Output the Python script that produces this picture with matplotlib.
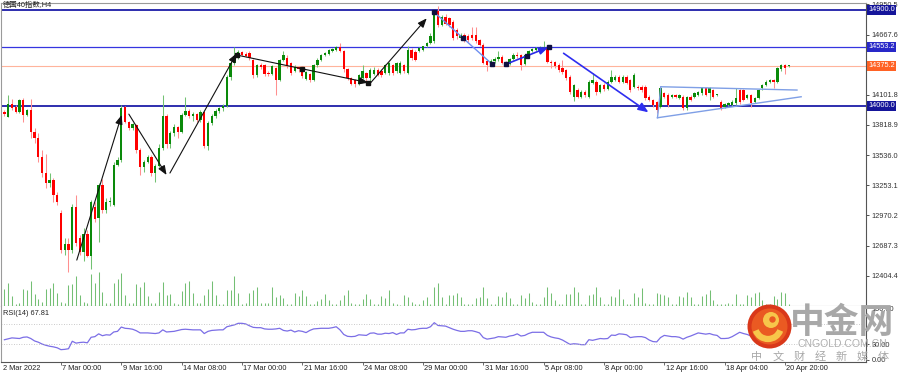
import matplotlib
matplotlib.use("Agg")
import matplotlib.pyplot as plt
from matplotlib.patches import Circle, Arc
from matplotlib.transforms import offset_copy
import numpy as np

plt.rcParams["font.family"] = ["Liberation Sans", "Noto Sans CJK SC", "DejaVu Sans"]

# DAX 40 H4 candles, 2 Mar 12:00 -> 21 Apr 2022
opens = [
    13940, 13897, 14020, 13990, 13945, 14053, 13912, 13960, 13756, 13700,
    13521, 13365, 13270, 13300, 13160, 12990, 12650, 12700, 12645, 13050,
    12760, 12630, 12800, 12585, 13050, 12945, 13255, 13020, 13095, 13070,
    13443, 13490, 13990, 13850, 13790, 13818, 13584, 13427, 13475, 13520,
    13365, 13430, 13600, 13900, 13640, 13740, 13800, 13750, 13912, 13950,
    13900, 13920, 13870, 13940, 13620, 13840, 13900, 13950, 13975, 14000,
    14270, 14400, 14470, 14500, 14485, 14490, 14430, 14290, 14380, 14380,
    14310, 14300, 14350, 14240, 14430, 14445, 14400, 14330, 14365, 14365,
    14255, 14300, 14240, 14380, 14430, 14475, 14490, 14510, 14525, 14550,
    14510, 14340, 14260, 14240, 14200, 14260, 14310, 14262, 14300, 14338,
    14330, 14307, 14307, 14385, 14323, 14310, 14385, 14307, 14526, 14500,
    14510, 14526, 14557, 14590, 14604, 14886, 14760, 14830, 14820, 14790,
    14714, 14635, 14667, 14650, 14667, 14667, 14620, 14573, 14416, 14385,
    14420, 14440, 14460, 14400, 14390, 14440, 14480, 14480, 14390, 14475,
    14510, 14525, 14540, 14530, 14554, 14413, 14410, 14382, 14350, 14335,
    14272, 14085, 14150, 14085, 14132, 14085, 14210, 14226, 14132, 14194,
    14160, 14226, 14240, 14272, 14226, 14272, 14240, 14180, 14179, 14179,
    14179, 14085, 14053, 14038, 13990, 14116, 14100, 14085, 14100, 14069,
    14085, 13975, 14085, 14085, 14100, 14116, 14163, 14116, 14147, 14100,
    14038, 13991, 14006, 14006, 14022, 14147, 14147, 14069, 14100, 14038,
    14069, 14163, 14194, 14226, 14241, 14226, 14340, 14382, 14370,
]
highs = [
    13960, 14100, 14065, 14010, 14060, 14070, 13970, 14062, 13790, 13740,
    13580, 13550, 13365, 13320, 13190, 13020, 12760, 12760, 13080, 13160,
    12790, 12850, 12830, 13115, 13100, 13270, 13310, 13130, 13140, 13470,
    13520, 14005, 14000, 13860, 13840, 13830, 13600, 13490, 13540, 13540,
    13450, 13640, 14100, 13920, 13760, 13830, 13810, 13930, 14085, 13965,
    13940, 13935, 13960, 13950, 13860, 13920, 13970, 13990, 14020, 14285,
    14420, 14555, 14520, 14515, 14500, 14510, 14440, 14395, 14400, 14390,
    14330, 14385, 14360, 14440, 14510, 14480, 14410, 14380, 14375, 14375,
    14330, 14310, 14390, 14445, 14490, 14500, 14530, 14545, 14560, 14585,
    14520, 14355, 14270, 14250, 14300, 14385, 14320, 14350, 14360, 14350,
    14345, 14395, 14410, 14395, 14410, 14415, 14395, 14560, 14540, 14520,
    14555, 14565, 14595, 14680, 14900, 14933, 14850, 14860, 14830, 14800,
    14730, 14680, 14680, 14670, 14740, 14740, 14630, 14590, 14430, 14440,
    14460, 14510, 14480, 14420, 14450, 14495, 14500, 14490, 14480, 14520,
    14545, 14550, 14558, 14607, 14565, 14430, 14420, 14400, 14430, 14345,
    14285, 14200, 14170, 14150, 14150, 14240, 14303, 14240, 14205, 14210,
    14240, 14335, 14285, 14290, 14285, 14290, 14250, 14305, 14195, 14190,
    14190, 14100, 14065, 14045, 14175, 14125, 14115, 14110, 14110, 14110,
    14100, 14095, 14100, 14125, 14140, 14175, 14180, 14175, 14160, 14110,
    14050, 14030, 14035, 14050, 14163, 14160, 14160, 14110, 14110, 14080,
    14160, 14205, 14240, 14250, 14250, 14360, 14395, 14390, 14385,
]
lows = [
    13905, 13890, 13960, 13930, 13935, 13850, 13900, 13694, 13646, 13475,
    13335, 13225, 13240, 13100, 13070, 12620, 12600, 12440, 12620, 12680,
    12600, 12540, 12580, 12470, 12910, 12720, 12990, 12990, 13060, 13060,
    13430, 13470, 13840, 13770, 13775, 13560, 13350, 13380, 13460, 13340,
    13280, 13420, 13580, 13600, 13600, 13720, 13700, 13740, 13900, 13880,
    13860, 13850, 13850, 13600, 13580, 13820, 13880, 13930, 13950, 13990,
    14240, 14380, 14440, 14470, 14455, 14430, 14260, 14270, 14340, 14280,
    14280, 14290, 14100, 14230, 14420, 14350, 14290, 14320, 14320, 14260,
    14240, 14220, 14230, 14360, 14420, 14465, 14480, 14500, 14515, 14500,
    14320, 14240, 14190, 14180, 14190, 14250, 14210, 14220, 14290, 14280,
    14270, 14300, 14290, 14290, 14310, 14300, 14310, 14300, 14430, 14420,
    14500, 14515, 14550, 14580, 14590, 14740, 14750, 14760, 14740, 14620,
    14630, 14620, 14600, 14600, 14620, 14590, 14560, 14390, 14323, 14375,
    14405, 14420, 14390, 14370, 14380, 14430, 14450, 14335, 14380, 14465,
    14500, 14515, 14530, 14520, 14400, 14350, 14350, 14320, 14300, 14240,
    14110, 14040, 14070, 14070, 14080, 14070, 14200, 14100, 14120, 14140,
    14150, 14215, 14230, 14215, 14215, 14200, 14130, 14170, 14150, 14130,
    14050, 14040, 13990, 13930, 13980, 14070, 13990, 14070, 14070, 14060,
    13960, 13960, 14040, 14075, 14090, 14100, 14090, 14053, 14070, 14090,
    13960, 13975, 13995, 14000, 14010, 14020, 14040, 14060, 13991, 14030,
    14060, 14150, 14185, 14215, 14163, 14215, 14330, 14300, 14365,
]
closes = [
    13920, 14020, 13975, 13945, 14053, 13912, 13960, 13756, 13694, 13521,
    13365, 13270, 13300, 13160, 13100, 12645, 12700, 12645, 13050, 12707,
    12630, 12800, 12585, 13100, 12940, 13255, 13020, 13095, 13110, 13443,
    13490, 13975, 13850, 13790, 13825, 13584, 13427, 13475, 13520, 13365,
    13430, 13600, 13900, 13640, 13740, 13800, 13750, 13912, 13950, 13900,
    13920, 13870, 13940, 13620, 13840, 13900, 13950, 13975, 14000, 14270,
    14400, 14470, 14500, 14480, 14470, 14445, 14290, 14380, 14360, 14300,
    14300, 14370, 14240, 14430, 14475, 14370, 14305, 14365, 14340, 14275,
    14320, 14240, 14380, 14430, 14475, 14490, 14520, 14535, 14550, 14510,
    14340, 14260, 14200, 14200, 14290, 14323, 14262, 14338, 14338, 14292,
    14290, 14385, 14400, 14307, 14400, 14400, 14323, 14526, 14448, 14430,
    14540, 14557, 14588, 14650, 14886, 14760, 14830, 14770, 14760, 14635,
    14650, 14667, 14620, 14620, 14635, 14604, 14573, 14401, 14385, 14420,
    14440, 14460, 14400, 14390, 14440, 14480, 14470, 14382, 14475, 14510,
    14530, 14545, 14552, 14550, 14413, 14400, 14370, 14335, 14320, 14257,
    14132, 14194, 14085, 14132, 14100, 14226, 14240, 14132, 14194, 14160,
    14226, 14272, 14272, 14226, 14272, 14210, 14150, 14288, 14163, 14147,
    14070, 14053, 14006, 13960, 14163, 14085, 14006, 14100, 14085, 14100,
    13975, 14085, 14053, 14116, 14132, 14163, 14100, 14163, 14085, 14100,
    13975, 14013, 14022, 14038, 14069, 14038, 14053, 14100, 14022, 14069,
    14147, 14194, 14226, 14241, 14226, 14351, 14382, 14351, 14380,
]
# tick volume (hundreds)
volumes = [
    16.7, 22.7, 10, 2, 2.7, 16.7, 16, 25, 12, 6.7,
    4.3, 16.7, 17.7, 23.3, 12.7, 4.3, 3.3, 21, 22, 30,
    11, 4.3, 3.3, 32, 23.3, 34, 14.3, 3.3, 3.3, 22.7,
    27, 33, 11, 3.3, 2.7, 22, 18.7, 24.3, 10, 2.7,
    3.3, 14.3, 24.3, 11, 12, 2.7, 2, 15.3, 22.7, 25.3,
    12.7, 3.3, 3.3, 11, 16.7, 25.3, 11, 2, 2, 16,
    16, 30, 12.7, 2, 3.3, 12.7, 16, 19.3, 2.7, 2.7,
    2.7, 19.3, 9.3, 11, 7.7, 2, 2, 12.7, 10, 16,
    10, 2, 2, 5.3, 6.7, 12, 6, 2, 2, 6,
    11, 16, 3.3, 2, 2, 6.7, 12, 6.7, 2, 2,
    10, 7.7, 16, 2.7, 2, 1, 11, 9.3, 4.3, 2,
    2, 6, 8.7, 2, 18.7, 22.7, 8.7, 2, 11, 11,
    13.3, 9.3, 2, 2, 2, 7.7, 8.7, 18.7, 7.7, 2,
    2, 10, 8.7, 14.3, 7.7, 2, 2, 11, 7.7, 13.3,
    4.3, 2, 2, 8.7, 18.7, 12.7, 6, 2, 2, 12,
    12, 18.7, 14.3, 2, 2, 11, 12, 19.3, 9.3, 2,
    2, 10, 8.7, 16.7, 6.7, 2, 2, 13.3, 8.7, 17.7,
    3.3, 2, 2, 12.7, 12, 11, 8.7, 2, 2, 10,
    8.7, 14.3, 9.3, 2, 2, 10, 12, 16, 6, 2,
    2, 2, 2.7, 2, 12, 2, 2, 11, 9.3, 12.7,
    14.3, 6, 2, 2, 10, 6.7, 14.3, 12.7, 2,
]
rsi = [
    38.9, 40.7, 42.5, 41.9, 41.3, 43.7, 44.3, 41.3, 36.6, 34.2,
    30.6, 28.2, 26.4, 25.2, 23.4, 19.8, 20.4, 21.6, 36.0, 32.4,
    33.6, 34.2, 33.0, 43.7, 44.9, 50.3, 46.7, 48.5, 47.9, 53.9,
    55.1, 63.4, 61.0, 60.4, 59.2, 56.3, 52.1, 52.1, 52.1, 51.5,
    50.9, 52.1, 58.0, 53.9, 54.5, 55.1, 56.9, 58.6, 59.2, 58.6,
    58.0, 58.0, 58.0, 50.9, 55.1, 56.9, 57.5, 58.0, 58.0, 64.0,
    65.8, 67.6, 70.6, 70.6, 69.4, 65.8, 62.8, 62.2, 62.2, 59.8,
    59.2, 59.2, 59.8, 61.0, 56.9, 55.7, 57.5, 53.9, 56.3, 55.1,
    52.7, 56.9, 59.8, 60.4, 61.0, 61.0, 61.0, 62.2, 64.0, 58.0,
    49.1, 45.5, 44.9, 45.5, 48.5, 47.9, 47.3, 51.5, 52.1, 49.7,
    49.7, 51.5, 50.9, 52.7, 49.1, 52.1, 52.1, 59.2, 58.0, 58.6,
    60.4, 61.0, 61.0, 64.0, 71.8, 66.4, 65.8, 65.2, 62.2, 59.2,
    56.9, 55.1, 55.1, 56.3, 56.3, 54.5, 52.1, 43.1, 40.1, 41.3,
    42.5, 44.9, 44.3, 43.7, 46.1, 47.3, 50.3, 46.1, 47.3, 50.9,
    53.3, 53.3, 53.3, 53.3, 47.3, 44.3, 42.5, 41.3, 38.4, 34.2,
    30.0, 31.2, 30.6, 29.4, 29.4, 39.0, 37.8, 39.6, 41.3, 40.7,
    41.3, 47.9, 47.3, 50.3, 49.7, 48.5, 43.1, 44.3, 44.9, 44.9,
    43.1, 38.4, 35.4, 34.8, 43.1, 47.3, 46.1, 44.9, 44.9, 43.7,
    40.1, 43.7, 46.1, 49.1, 52.1, 50.9, 49.7, 50.9, 48.5, 47.3,
    41.3, 41.3, 41.9, 44.9, 49.1, 53.3, 50.9, 49.1, 46.0, 49.0,
    54.0, 57.0, 60.0, 61.0, 59.0, 66.0, 69.0, 66.0, 67.8,
]

time_labels = ["7 Mar 00:00", "9 Mar 16:00", "14 Mar 08:00", "17 Mar 00:00",
               "21 Mar 16:00", "24 Mar 08:00", "29 Mar 00:00", "31 Mar 16:00",
               "5 Apr 08:00", "8 Apr 00:00", "12 Apr 16:00", "18 Apr 04:00",
               "20 Apr 20:00"]
time_label_bars = [15, 31, 47, 63, 79, 95, 111, 127, 143, 159, 175, 191, 207]
price_ticks = [14950.5, 14667.6, 14101.8, 13818.9, 13536.0,
               13253.1, 12970.2, 12687.3, 12404.4]
rsi_ticks = [100, 30, 0]
levels = [14900.0, 14553.2, 14000.0]
bid_price = 14375.2

# hand-drawn analysis lines: (bar, price) -> (bar, price)
black_arrows = [((19.2, 12551), (31.1, 13913)),
                ((33.0, 13921), (43.0, 13350)),
                ((43.9, 13368), (61.6, 14492)),
                ((61.6, 14476), (96.5, 14216)),
                ((97.0, 14210), (112.0, 14820))]
fall_line = ((114.0, 14877), (129.3, 14391))
rise_arrow = ((133.0, 14389), (144.3, 14549))
drop_arrow = ((148.3, 14492), (170.8, 13938))
triangle = [((174.1, 14178), (210.2, 14147)),
            ((173.2, 13887), (211.3, 14084)),
            ((174.1, 14178), (173.2, 13887))]

W, H = 903, 376
fig = plt.figure(figsize=(W / 100, H / 100), dpi=100)


def box(x0, y0, x1, y1):
    return [x0 / W, 1 - y1 / H, (x1 - x0) / W, (y1 - y0) / H]


ax = fig.add_axes(box(1, 3, 866, 306))
axr = fig.add_axes(box(1, 306, 866, 362), sharex=ax)

x = np.arange(len(closes))
o, hi, lo, c = (np.array(v, dtype=float) for v in (opens, highs, lows, closes))
up = c >= o

# volumes in the bottom of the price window
axv = ax.twinx()
axv.vlines(x, 0, volumes, colors="#74bf74", lw=0.75)
axv.set_ylim(0, 303)
axv.set_axis_off()

# candles
ax.vlines(x, lo, hi, colors=np.where(up, "#72c272", "#ff8f8f"), lw=0.75, zorder=3)
body = np.maximum(np.abs(c - o), 9)
ax.bar(x, body, bottom=np.minimum(o, c), width=0.62,
       color=np.where(up, "#0a8a0a", "#ff0000"), lw=0, zorder=4)

ax.set_xlim(-0.9, 228.5)
ax.set_ylim(12120, 14964)

# horizontal levels
level_styles = [("#1c1ca8", 1.3, "#15159a"), ("#3535e0", 0.9, "#2828c8"),
                ("#1c1ca8", 1.3, "#15159a")]
for lv, (lc, lw, bc) in zip(levels, level_styles):
    ax.axhline(lv, color=lc, lw=lw, zorder=2)
ax.axhline(bid_price, color="#ffb49c", lw=0.8, zorder=2)

# trend lines
arrow_style = "-|>,head_length=0.55,head_width=0.22"
for (p0, p1) in black_arrows:
    ax.annotate("", xy=p1, xytext=p0, zorder=6,
                arrowprops=dict(arrowstyle=arrow_style, color="#111111", lw=0.8,
                                shrinkA=0, shrinkB=0))


def anchors(seg, color):
    (p0, p1) = seg
    ax.plot([p0[0], (p0[0] + p1[0]) / 2, p1[0]], [p0[1], (p0[1] + p1[1]) / 2, p1[1]],
            "s", color=color, ms=2.2, zorder=7)


anchors(black_arrows[3], "#111111")

ax.plot([fall_line[0][0], fall_line[1][0]], [fall_line[0][1], fall_line[1][1]],
        color="#6e8ff0", lw=1.0, zorder=6)
anchors(fall_line, "#101040")

ax.annotate("", xy=rise_arrow[1], xytext=rise_arrow[0], zorder=6,
            arrowprops=dict(arrowstyle=arrow_style, color="#2a2ae8", lw=1.2,
                            shrinkA=0, shrinkB=0))
anchors(rise_arrow, "#101040")

ax.annotate("", xy=drop_arrow[1], xytext=drop_arrow[0], zorder=6,
            arrowprops=dict(arrowstyle="-|>,head_length=0.6,head_width=0.25",
                            color="#2e2ef0", lw=1.2, shrinkA=0, shrinkB=0))

for (p0, p1) in triangle:
    ax.plot([p0[0], p1[0]], [p0[1], p1[1]], color="#7f9fe6", lw=1.0, zorder=6)

# right price scale
ax.yaxis.tick_right()
ax.set_yticks(price_ticks)
ax.set_yticklabels([f"{v:.1f}" for v in price_ticks])
ax.tick_params(axis="y", length=2.5, width=0.6, pad=1.5, labelsize=5.3,
               colors="#333333")
ax.tick_params(axis="x", bottom=False, labelbottom=False)

lab_tr = ax.get_yaxis_transform()
for lv, (lc, lw, bc) in zip(levels, level_styles):
    ax.text(1.0025, lv, f"{lv:.1f}", transform=lab_tr, fontsize=5.3, color="white",
            va="center", ha="left", clip_on=False, zorder=10,
            bbox=dict(boxstyle="square,pad=0.18", fc=bc, ec="none"))
ax.text(1.0025, bid_price, f"{bid_price:.1f}", transform=lab_tr, fontsize=5.3,
        color="white", va="center", ha="left", clip_on=False, zorder=10,
        bbox=dict(boxstyle="square,pad=0.18", fc="#ff6224", ec="none"))

for s in ("left", "top", "bottom"):
    ax.spines[s].set_color("#9a9a9a")
    ax.spines[s].set_linewidth(0.8)
ax.spines["right"].set_color("#555555")
ax.spines["right"].set_linewidth(0.8)

# RSI window
axr.plot(x, rsi, color="#7b6ee6", lw=0.9)
for lvl in (70, 30):
    axr.axhline(lvl, color="#b8b8b8", lw=0.6, ls=(0, (1, 2)))
axr.set_ylim(-4, 104)
axr.yaxis.tick_right()
axr.set_yticks(rsi_ticks)
axr.set_yticklabels([f"{v:.2f}" for v in rsi_ticks])
axr.tick_params(axis="y", length=2.5, width=0.6, pad=1.5, labelsize=5.3,
                colors="#333333")
axr.set_xticks(time_label_bars)
axr.tick_params(axis="x", direction="out", length=2.5, width=0.6, color="#555555",
                labelbottom=False)
axr.spines["top"].set_visible(False)
axr.spines["left"].set_color("#9a9a9a")
for s in ("right", "bottom"):
    axr.spines[s].set_color("#555555")
    axr.spines[s].set_linewidth(0.8)
axr.text(0.002, 0.86, "RSI(14) 67.81", transform=axr.transAxes, fontsize=5.3,
         va="center", ha="left", color="#222222")

tr = offset_copy(axr.get_xaxis_transform(), fig=fig, x=1.5, y=0, units="dots")
for b, lab in zip(time_label_bars, time_labels):
    axr.text(b, -0.11, lab, transform=tr, fontsize=5.3, ha="left", va="center",
             color="#222222", clip_on=False)
axr.text(0.002, -0.11, "2 Mar 2022", transform=axr.transAxes, fontsize=5.3,
         ha="left", va="center", color="#222222")

fig.text(3 / W, 1 - 5.5 / H, "德国40指数,H4", fontsize=5.3, ha="left", va="center",
         color="#222222")

# watermark
axo = fig.add_axes([0, 0, 1, 1])
axo.set_xlim(0, W)
axo.set_ylim(H, 0)
axo.axis("off")
axo.add_patch(Circle((769.5, 326.5), 22, fc="#d9381a", ec="none"))
axo.add_patch(Circle((769.5, 326.5), 18, fc="#ea5a22", ec="none"))
axo.add_patch(Arc((768, 326), 26, 26, theta1=20, theta2=160, color="#f7c64a", lw=4.5))
axo.add_patch(Circle((771, 320), 8, fc="#f7c64a", ec="none"))
axo.add_patch(Circle((772.5, 319.5), 3.2, fc="#ea5a22", ec="none"))
axo.text(842, 322, "中金网", fontsize=25, fontweight="bold", color="#a8a8a8",
         ha="center", va="center", family=["Noto Sans CJK SC", "DejaVu Sans"])
axo.text(842, 344, "CNGOLD.COM.CN", fontsize=7.5, color="#b0b0b0", ha="center",
         va="center")
for k, ch in enumerate("中文财经新媒体"):
    axo.text(757 + k * 21, 357, ch, fontsize=8, color="#a8a8a8", ha="center",
             va="center", family=["Noto Sans CJK SC", "DejaVu Sans"])

fig.savefig("out.png", dpi=100)
